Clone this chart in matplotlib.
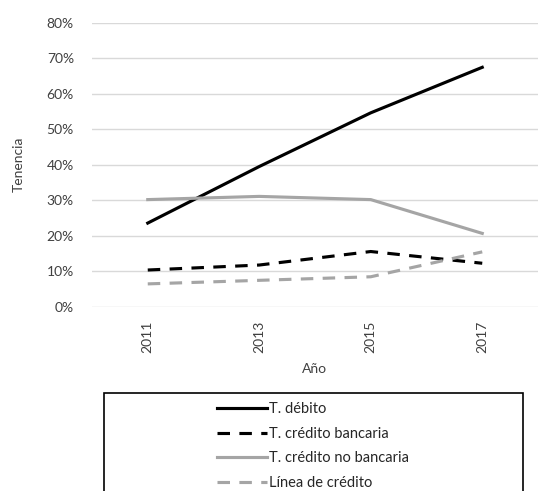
import matplotlib.pyplot as plt
from matplotlib.patches import Rectangle
from matplotlib.ticker import PercentFormatter

years = ["2011", "2013", "2015", "2017"]
debito = [0.236, 0.395, 0.546, 0.674]
credito_bancaria = [0.104, 0.118, 0.156, 0.123]
credito_no_bancaria = [0.302, 0.311, 0.302, 0.207]
linea_credito = [0.065, 0.075, 0.085, 0.155]

BLACK = "#000000"
GRAY = "#A5A5A5"
TEXT = "#404040"
GRID = "#D9D9D9"

plt.rcParams['font.family'] = ['Lato', 'DejaVu Sans']
plt.rcParams['font.size'] = 10

fig = plt.figure(figsize=(5.6, 4.91), dpi=100)
ax = fig.add_axes([92 / 560, 1 - 307 / 491, 446 / 560, 284.5 / 491])

x = range(len(years))
lw = 2.25
ax.plot(x, debito, color=BLACK, lw=lw, label="T. débito")
ax.plot(x, credito_bancaria, color=BLACK, lw=lw, dashes=(4, 3), label="T. crédito bancaria")
ax.plot(x, credito_no_bancaria, color=GRAY, lw=lw, label="T. crédito no bancaria")
ax.plot(x, linea_credito, color=GRAY, lw=lw, dashes=(4, 3), label="Línea de crédito")

ax.set_xlim(-0.5, len(years) - 0.5)
ax.set_ylim(0, 0.8)
ax.set_yticks([i / 10 for i in range(9)])
ax.yaxis.set_major_formatter(PercentFormatter(1.0, decimals=0))
ax.set_xticks(list(x))
ax.set_xticklabels(years, rotation=90)

ax.grid(axis="y", color=GRID, lw=1)
ax.set_axisbelow(True)
for s in ax.spines.values():
    s.set_visible(False)
ax.tick_params(length=0, colors=TEXT, labelsize=10)
ax.tick_params(axis="x", pad=10)
ax.tick_params(axis="y", pad=13)

ax.set_xlabel("Año", color=TEXT, fontsize=10, labelpad=7)
ax.set_ylabel("Tenencia", color=TEXT, fontsize=10, labelpad=16)

# legend box, cut at the bottom edge like the original
fig.patches.append(Rectangle((104 / 560, -0.05), 419 / 560, (1 - 393 / 491) + 0.05,
                             transform=fig.transFigure, fill=False,
                             edgecolor=BLACK, lw=1.2))
fig.legend(loc="upper center", bbox_to_anchor=(313 / 560, 1 - 389 / 491),
           frameon=False, handlelength=3.4, handletextpad=0.1,
           labelspacing=0.72, fontsize=10.5, labelcolor="#262626")

fig.savefig("out.png", dpi=100)
